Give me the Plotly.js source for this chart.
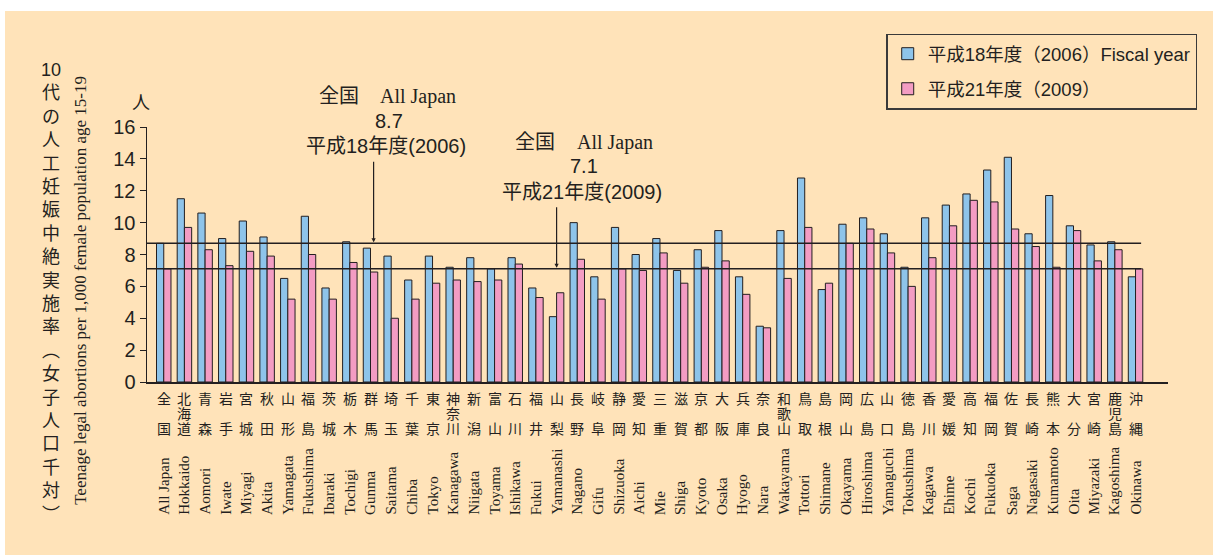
<!DOCTYPE html>
<html>
<head>
<meta charset="utf-8">
<script src="https://cdn.plot.ly/plotly-3.0.1.min.js"></script>
<style>
  body { margin: 0; background: #ffffff; }
  #fig { position: absolute; left: 5px; top: 11px; width: 1208px; height: 544px; }
</style>
</head>
<body>
<div id="fig"></div>
<script>
// prefectures, English names (x categories)
var catsEn = ['All Japan','Hokkaido','Aomori','Iwate','Miyagi','Akita','Yamagata','Fukushima',
  'Ibaraki','Tochigi','Gunma','Saitama','Chiba','Tokyo','Kanagawa','Niigata','Toyama','Ishikawa',
  'Fukui','Yamanashi','Nagano','Gifu','Shizuoka','Aichi','Mie','Shiga','Kyoto','Osaka','Hyogo',
  'Nara','Wakayama','Tottori','Shimane','Okayama','Hiroshima','Yamaguchi','Tokushima','Kagawa',
  'Ehime','Kochi','Fukuoka','Saga','Nagasaki','Kumamoto','Oita','Miyazaki','Kagoshima','Okinawa'];

// same prefectures, Japanese names
var catsJa = ['全国','北海道','青森','岩手','宮城','秋田','山形','福島','茨城','栃木','群馬','埼玉',
  '千葉','東京','神奈川','新潟','富山','石川','福井','山梨','長野','岐阜','静岡','愛知','三重','滋賀',
  '京都','大阪','兵庫','奈良','和歌山','鳥取','島根','岡山','広島','山口','徳島','香川','愛媛','高知',
  '福岡','佐賀','長崎','熊本','大分','宮崎','鹿児島','沖縄'];

// teenage abortions per 1,000 females aged 15-19
var fy2006 = [8.7,11.5,10.6,9.0,10.1,9.1,6.5,10.4,5.9,8.8,8.4,7.9,6.4,7.9,7.2,7.8,7.1,7.8,5.9,4.1,
  10.0,6.6,9.7,8.0,9.0,7.0,8.3,9.5,6.6,3.5,9.5,12.8,5.8,9.9,10.3,9.3,7.2,10.3,11.1,11.8,13.3,14.1,
  9.3,11.7,9.8,8.6,8.8,6.6];
var fy2009 = [7.1,9.7,8.3,7.3,8.2,7.9,5.2,8.0,5.2,7.5,6.9,4.0,5.2,6.2,6.4,6.3,6.4,7.4,5.3,5.6,
  7.7,5.2,7.1,7.0,8.1,6.2,7.2,7.6,5.5,3.4,6.5,9.7,6.2,8.7,9.6,8.1,6.0,7.8,9.8,11.4,11.3,9.6,
  8.5,7.2,9.5,7.6,8.3,7.1];

var yTicks = [0, 2, 4, 6, 8, 10, 12, 14, 16];

var ink = '#231F20';
var sans = 'Liberation Sans, Noto Sans CJK JP, sans-serif';
var serif = 'Liberation Serif, Noto Serif CJK JP, serif';

var series = [
  {x: catsEn, y: fy2006, type: 'bar', name: '平成18年度（2006）Fiscal year', legendgroup: 'a',
   marker: {color: '#8EC4EA', line: {color: ink, width: 1}}},
  {x: catsEn, y: fy2009, type: 'bar', name: '平成21年度（2009）', legendgroup: 'b',
   marker: {color: '#F39CC3', line: {color: ink, width: 1}}}
];

var notes = [];
function note(o) { // helper, plain text annotation, centred unless told otherwise
  notes.push(Object.assign({showarrow: false, xanchor: 'center', yanchor: 'middle',
                            font: {family: sans, size: 20, color: ink}}, o));
}

// x labels: Japanese stacked (3 rows), English rotated below
var rowY = [-0.065, -0.124, -0.183];
for (var i = 0; i < catsEn.length; i++) {
  var ja = catsJa[i];
  var rows = [ja[0], ja.length == 3 ? ja[1] : '', ja[ja.length - 1]];
  for (var r = 0; r < 3; r++) {
    if (rows[r] == '') continue;
    note({text: rows[r], xref: 'x', yref: 'paper', x: catsEn[i], y: rowY[r],
          font: {family: sans, size: 14, color: ink}});
  }
  note({text: catsEn[i], xref: 'x', yref: 'paper', x: catsEn[i], y: -0.529,
        yanchor: 'bottom', textangle: -90, font: {family: serif, size: 15, color: ink}});
}

// y axis titles
var jaTitle = ['10','代','の','人','工','妊','娠','中','絶','実','施','率','︵','女','子','人','口','千','対','︶'];
note({text: jaTitle.join('<br>'), xref: 'paper', yref: 'paper', x: -0.0937, y: 0.35,
      font: {family: sans, size: 18, color: ink}});
note({text: 'Teenage legal abortions per 1,000 female population age 15-19', xref: 'paper', yref: 'paper',
      x: -0.065, y: 0.36, textangle: -90, font: {family: serif, size: 17, color: ink}});
note({text: '人', xref: 'paper', yref: 'paper', x: -0.0056, y: 1.093, font: {family: sans, size: 18, color: ink}});

// All Japan callouts
note({text: '全国', xref: 'x', yref: 'paper', x: 7.41, y: 1.120, xanchor: 'left'});
note({text: 'All Japan', xref: 'x', yref: 'paper', x: 10.37, y: 1.120, xanchor: 'left',
      font: {family: serif, size: 20, color: ink}});
note({text: fy2006[0].toFixed(1), xref: 'x', yref: 'paper', x: 10.9, y: 1.022});
note({text: '平成18年度(2006)', xref: 'x', yref: 'paper', x: 10.74, y: 0.924});

note({text: '全国', xref: 'x', yref: 'paper', x: 16.89, y: 0.940, xanchor: 'left'});
note({text: 'All Japan', xref: 'x', yref: 'paper', x: 19.9, y: 0.940, xanchor: 'left',
      font: {family: serif, size: 20, color: ink}});
note({text: fy2009[0].toFixed(1), xref: 'x', yref: 'paper', x: 20.33, y: 0.846});
note({text: '平成21年度(2009)', xref: 'x', yref: 'paper', x: 20.22, y: 0.747});

// arrows down to the average lines
notes.push({text: '', xref: 'x', yref: 'y', x: 10.15, y: fy2006[0], showarrow: true,
            ax: 0, ay: -83, arrowhead: 2, arrowsize: 0.7, arrowwidth: 1.2, arrowcolor: ink, standoff: 1});
notes.push({text: '', xref: 'x', yref: 'y', x: 19.0, y: fy2009[0], showarrow: true,
            ax: 0, ay: -63, arrowhead: 2, arrowsize: 0.7, arrowwidth: 1.2, arrowcolor: ink, standoff: 1});

var layout = {
  width: 1208, height: 544,
  margin: {l: 142, r: 45, t: 116, b: 173},
  paper_bgcolor: '#FFE3B9', plot_bgcolor: 'rgba(0,0,0,0)',
  font: {family: sans, color: ink},
  barmode: 'group', bargap: 0.3, bargroupgap: 0,
  showlegend: true,
  legend: {x: 0.724, y: 1.366, xanchor: 'left', yanchor: 'top',
           font: {family: sans, size: 18.5, color: ink}, bgcolor: 'rgba(0,0,0,0)',
           bordercolor: '#3a3a3a', borderwidth: 1.5, tracegroupgap: 8, traceorder: 'grouped'},
  xaxis: {type: 'category', range: [-0.81, 48.57], showticklabels: false, ticks: '',
          showline: true, linecolor: ink, linewidth: 1.5, showgrid: false, zeroline: false, fixedrange: true},
  yaxis: {range: [0, 16], tickvals: yTicks, ticks: 'outside', ticklen: 6, tickcolor: ink,
          showline: true, linecolor: ink, linewidth: 1.5, showgrid: false, zeroline: false,
          tickfont: {family: sans, size: 20, color: ink}, fixedrange: true},
  shapes: [
    {type: 'line', xref: 'x', yref: 'y', x0: -0.81, x1: 47.27, y0: fy2006[0], y1: fy2006[0],
     line: {color: ink, width: 1.5}, layer: 'above'},
    {type: 'line', xref: 'x', yref: 'y', x0: -0.81, x1: 47.27, y0: fy2009[0], y1: fy2009[0],
     line: {color: ink, width: 1.5}, layer: 'above'}
  ],
  annotations: notes
};

Plotly.newPlot('fig', series, layout, {displayModeBar: false, staticPlot: true});
</script>
</body>
</html>
